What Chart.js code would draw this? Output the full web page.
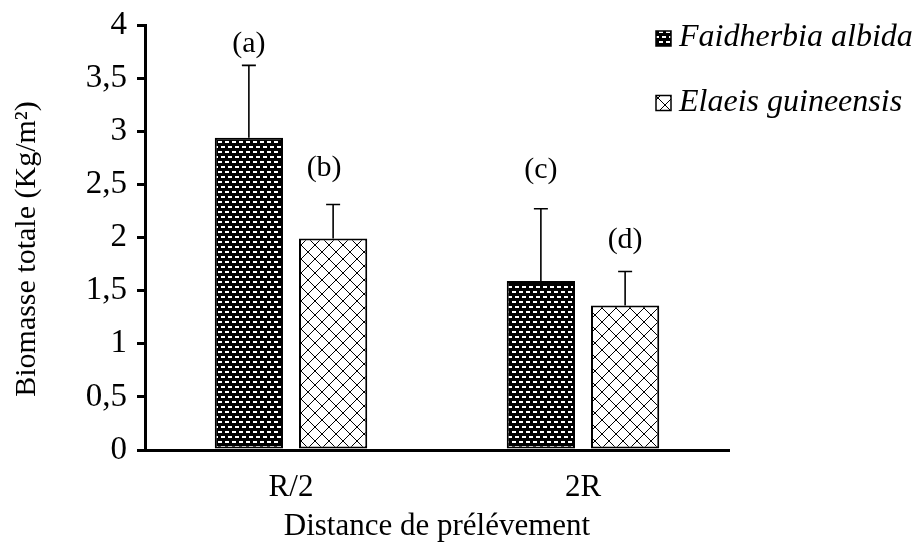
<!DOCTYPE html>
<html>
<head>
<meta charset="utf-8">
<script src="https://cdn.jsdelivr.net/npm/chart.js@4/dist/chart.umd.min.js"></script>
<style>
  html, body { margin: 0; padding: 0; background: #fff; }
  #wrap { width: 915px; height: 546px; }
</style>
</head>
<body>
<div id="wrap"><canvas id="chart" width="915" height="546"></canvas></div>
<script>
// Total biomass per sampling distance, two tree species
const distances = ['R/2', '2R'];
const seriesNames = ['Faidherbia albida', 'Elaeis guineensis'];
const faidherbiaBiomass = [2.94, 1.59];
const elaeisBiomass = [1.99, 1.36];
const faidherbiaError = [0.68, 0.68];
const elaeisError = [0.32, 0.32];
const faidherbiaLetters = ['(a)', '(c)'];
const elaeisLetters = ['(b)', '(d)'];
const yTickValues = [0, 0.5, 1, 1.5, 2, 2.5, 3, 3.5, 4];
const yTickLabels = ['0', '0,5', '1', '1,5', '2', '2,5', '3', '3,5', '4'];
const yTitle = 'Biomasse totale (Kg/m²)';
const xTitle = 'Distance de prélévement';

const SERIF = "'Liberation Serif', 'Times New Roman', serif";

// Brick-like fill: black ground with staggered white dashes
function brickPattern() {
  const c = document.createElement('canvas');
  c.width = 14; c.height = 10;
  const g = c.getContext('2d');
  g.fillStyle = '#000';
  g.fillRect(0, 0, 14, 10);
  g.fillStyle = '#fff';
  [[1, 1], [8, 1], [4, 6], [11, 6], [-3, 6]].forEach(([x, y]) => g.fillRect(x, y, 4, 2));
  return g.createPattern(c, 'repeat');
}

// Diamond lattice: white ground with thin black diagonals
function latticePattern() {
  const n = 14;
  const c = document.createElement('canvas');
  c.width = n; c.height = n;
  const g = c.getContext('2d');
  g.fillStyle = '#fff';
  g.fillRect(0, 0, n, n);
  g.fillStyle = '#000';
  for (let i = 0; i < n; i++) {
    g.fillRect(i, i, 1, 1);
    g.fillRect(n - 1 - i, i, 1, 1);
  }
  return g.createPattern(c, 'repeat');
}

const fills = [brickPattern(), latticePattern()];

// Upper error whiskers and significance letters
const errorBars = {
  id: 'errorBars',
  afterDatasetsDraw(chart, args, opts) {
    const ctx = chart.ctx;
    const y = chart.scales.y;
    chart.data.datasets.forEach((ds, di) => {
      const meta = chart.getDatasetMeta(di);
      meta.data.forEach((bar, i) => {
        const v = ds.data[i];
        const top = y.getPixelForValue(v + ds.errors[i]);
        const base = y.getPixelForValue(v);
        ctx.save();
        ctx.strokeStyle = '#000';
        ctx.lineWidth = 1.6;
        ctx.beginPath();
        ctx.moveTo(bar.x, base);
        ctx.lineTo(bar.x, top);
        ctx.moveTo(bar.x - 7, top);
        ctx.lineTo(bar.x + 7, top);
        ctx.stroke();
        const off = opts.letterOffsets[di][i];
        ctx.fillStyle = '#000';
        ctx.font = '30px ' + SERIF;
        ctx.textAlign = 'center';
        ctx.textBaseline = 'middle';
        ctx.fillText(ds.letters[i], bar.x + off[0], top - off[1]);
        ctx.restore();
      });
    });
  }
};

// Vertical axis title, centred a little below the plot's midline
const yAxisTitle = {
  id: 'yAxisTitle',
  afterDraw(chart, args, opts) {
    const ctx = chart.ctx;
    ctx.save();
    ctx.translate(opts.x, opts.y);
    ctx.rotate(-Math.PI / 2);
    ctx.fillStyle = '#000';
    ctx.font = '30px ' + SERIF;
    ctx.textAlign = 'center';
    ctx.textBaseline = 'middle';
    ctx.fillText(opts.text, 0, 0);
    ctx.restore();
  }
};

// Legend drawn at the top right, overlapping the plot's right margin
const sideLegend = {
  id: 'sideLegend',
  afterDraw(chart, args, opts) {
    const ctx = chart.ctx;
    chart.data.datasets.forEach((ds, i) => {
      const cy = opts.y + i * opts.step;
      ctx.save();
      ctx.fillStyle = ds.backgroundColor;
      ctx.fillRect(opts.x, cy - 7, 15, 15);
      ctx.strokeStyle = '#000';
      ctx.lineWidth = 1.5;
      ctx.strokeRect(opts.x, cy - 7, 15, 15);
      ctx.fillStyle = '#000';
      ctx.font = 'italic 32px ' + SERIF;
      ctx.textAlign = 'left';
      ctx.textBaseline = 'middle';
      ctx.fillText(ds.label, opts.x + 23, cy);
      ctx.restore();
    });
  }
};

new Chart(document.getElementById('chart'), {
  type: 'bar',
  data: {
    labels: distances,
    datasets: [
      {
        label: seriesNames[0],
        data: faidherbiaBiomass,
        errors: faidherbiaError,
        letters: faidherbiaLetters,
        backgroundColor: fills[0],
        borderColor: '#000',
        borderWidth: 2,
        borderSkipped: false
      },
      {
        label: seriesNames[1],
        data: elaeisBiomass,
        errors: elaeisError,
        letters: elaeisLetters,
        backgroundColor: fills[1],
        borderColor: '#000',
        borderWidth: 2,
        borderSkipped: false
      }
    ]
  },
  options: {
    responsive: false,
    animation: false,
    devicePixelRatio: 1,
    categoryPercentage: 0.577,
    barPercentage: 0.81,
    layout: { padding: { top: 25, right: 186, bottom: 0, left: 0 } },
    plugins: {
      legend: { display: false },
      tooltip: { enabled: false },
      errorBars: { letterOffsets: [[[0, 21], [0, 39]], [[-9, 36], [0, 31]]] },
      yAxisTitle: { text: yTitle, x: 27, y: 249 },
      sideLegend: { x: 656, y: 38, step: 64.5 }
    },
    scales: {
      x: {
        grid: { display: false, drawTicks: false },
        border: { display: true, color: '#000', width: 3 },
        ticks: { color: '#000', font: { family: SERIF, size: 31 }, padding: 19 },
        title: {
          display: true,
          text: xTitle,
          color: '#000',
          font: { family: SERIF, size: 31 },
          padding: { top: 0, bottom: 1 }
        },
        afterFit(s) { s.height = 96; s.paddingLeft = 0; s.paddingRight = 0; }
      },
      y: {
        min: 0,
        max: 4,
        afterBuildTicks(s) { s.ticks = yTickValues.map(v => ({ value: v })); },
        ticks: {
          color: '#000',
          font: { family: SERIF, size: 33 },
          padding: 10,
          autoSkip: false,
          callback: (v, i) => yTickLabels[i]
        },
        grid: { display: true, drawOnChartArea: false, drawTicks: true, tickLength: 8, color: '#000', lineWidth: 3 },
        border: { display: true, color: '#000', width: 3 },
        title: { display: false },
        afterFit(s) { s.width = 145; s.paddingTop = 0; s.paddingBottom = 0; }
      }
    }
  },
  plugins: [errorBars, yAxisTitle, sideLegend]
});
</script>
</body>
</html>
